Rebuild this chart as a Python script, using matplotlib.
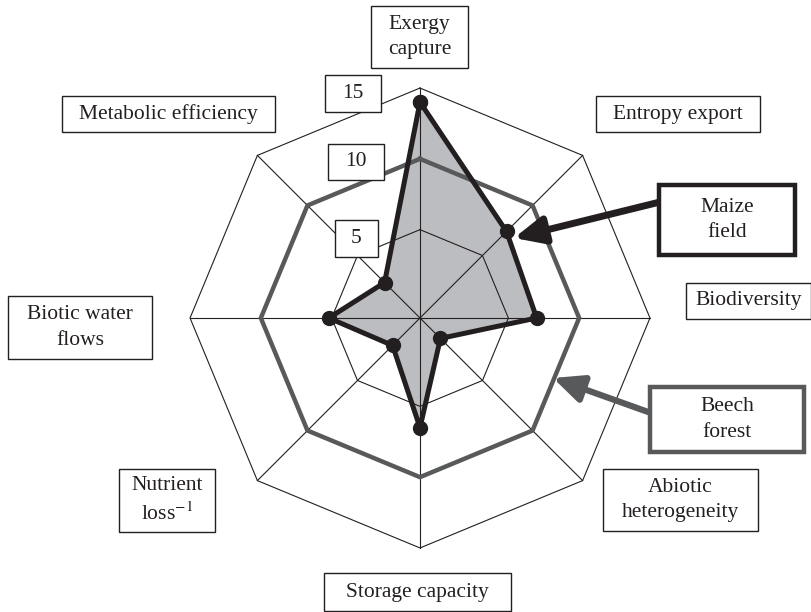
import numpy as np
import matplotlib
matplotlib.use('Agg')
import matplotlib.pyplot as plt
from matplotlib.patches import Rectangle, FancyArrowPatch

# Axes (clockwise from top) and values
axes_labels = ['Exergy\ncapture', 'Entropy export', 'Biodiversity', 'Abiotic\nheterogeneity',
               'Storage capacity', 'Nutrient\nloss$^{-1}$', 'Biotic water\nflows', 'Metabolic efficiency']
maize_field = [14.0, 7.4, 7.0, 0.8, 6.5, 1.5, 5.2, 2.3]
beech_forest = [10, 10, 10, 10, 10, 10, 10, 10]
ring_levels = [5, 15]
ring_labels = ['5', '10', '15']

# Radial axis does not start at zero in the original figure
R_ORIGIN = -1.24

# Figure geometry (pixels)
W, H = 812, 612
CX, CY = 420, 318
K = 14.16  # pixels per unit

INK = '#231f20'
GRAY_LINE = '#58595b'
FILL = '#bcbdc1'
FS = 15.5

plt.rcParams['font.family'] = ['Liberation Serif', 'DejaVu Serif']
plt.rcParams['mathtext.fontset'] = 'stix'

fig = plt.figure(figsize=(W / 100, H / 100), dpi=100)
ax = fig.add_axes([0, 0, 1, 1])
ax.set_xlim(-CX / K, (W - CX) / K)
ax.set_ylim(-(H - CY) / K, CY / K)
ax.axis('off')

n = len(axes_labels)
theta = np.arange(n) * 2 * np.pi / n


def to_xy(vals):
    r = np.asarray(vals, dtype=float) - R_ORIGIN
    x = r * np.sin(theta)
    y = r * np.cos(theta)
    return np.append(x, x[0]), np.append(y, y[0])


# Maize fill first, grid on top of it
mx, my = to_xy(maize_field)
ax.fill(mx, my, color=FILL, zorder=1, lw=0)

# Octagonal grid and spokes
for lvl in ring_levels:
    gx, gy = to_xy([lvl] * n)
    ax.plot(gx, gy, color=INK, lw=0.8, zorder=2)
ox, oy = to_xy([ring_levels[-1]] * n)
for i in range(n):
    ax.plot([0, ox[i]], [0, oy[i]], color=INK, lw=0.8, zorder=2)

# Beech forest
bx, by = to_xy(beech_forest)
ax.plot(bx, by, color=GRAY_LINE, lw=3.2, zorder=3, solid_joinstyle='miter')

# Maize field
ax.plot(mx, my, color=INK, lw=3.6, zorder=4, marker='o', markersize=10,
        markerfacecolor=INK, markeredgecolor=INK, solid_joinstyle='miter')


def px_box(x0, y0, x1, y1, text, fs=FS, lw=1.0, ec=INK):
    """Draw a white box with centred text, box given in pixel coords from top-left."""
    rect = Rectangle((x0 / W, 1 - y1 / H), (x1 - x0) / W, (y1 - y0) / H,
                     transform=fig.transFigure, facecolor='white', edgecolor=ec,
                     lw=lw, zorder=10)
    fig.patches.append(rect)
    fig.text((x0 + x1) / 2 / W, 1 - (y0 + y1) / 2 / H, text, ha='center', va='center',
             fontsize=fs, color=INK, zorder=11, linespacing=1.45)


# Axis label boxes
label_boxes = [(371, 6, 468, 68), (596, 96, 760, 132), (686, 283, 811, 319),
               (603, 469, 758, 531), (324, 573, 511, 611), (119, 469, 215, 532),
               (8, 296, 152, 359), (62, 96, 275, 132)]
for lab, b in zip(axes_labels, label_boxes):
    px_box(*b, lab)

# Ring value boxes
value_boxes = [(335, 220, 378, 257), (328, 144, 384, 180), (325, 75, 381, 112)]
for lab, b in zip(ring_labels, value_boxes):
    px_box(*b, lab)

# Legend boxes with arrows
px_box(659, 185, 795, 255, 'Maize\nfield', lw=3.2, ec=INK)
px_box(650, 387, 804, 452, 'Beech\nforest', lw=3.2, ec=GRAY_LINE)


def px_arrow(x0, y0, x1, y1, color, lw):
    arr = FancyArrowPatch((x0 / W, 1 - y0 / H), (x1 / W, 1 - y1 / H),
                          transform=fig.transFigure, arrowstyle='-|>,head_length=1.2,head_width=0.55',
                          mutation_scale=15, color=color, lw=lw, zorder=9,
                          shrinkA=0, shrinkB=0)
    fig.patches.append(arr)


px_arrow(660, 202, 514, 238, INK, 5.0)
px_arrow(651, 413, 553, 378, GRAY_LINE, 4.5)

fig.savefig('out.png', dpi=100, facecolor='white')
